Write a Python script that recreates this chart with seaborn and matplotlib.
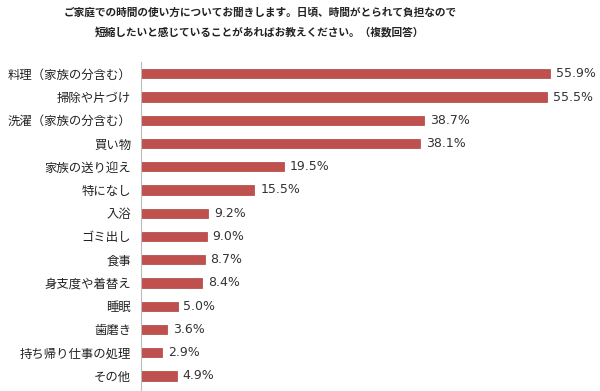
import pandas as pd
import seaborn as sns
import matplotlib.pyplot as plt

# data
categories = ['料理（家族の分含む）', '掃除や片づけ', '洗濯（家族の分含む）', '買い物',
              '家族の送り迎え', '特になし', '入浴', 'ゴミ出し', '食事', '身支度や着替え',
              '睡眠', '歯磨き', '持ち帰り仕事の処理', 'その他']
values = [55.9, 55.5, 38.7, 38.1, 19.5, 15.5, 9.2, 9.0, 8.7, 8.4, 5.0, 3.6, 2.9, 4.9]

df = pd.DataFrame({'item': categories, 'pct': values})

sns.set_style('white')
plt.rcParams['font.family'] = ['Noto Sans CJK JP', 'DejaVu Sans']

fig = plt.figure(figsize=(6, 3.91), dpi=100)
ax = fig.add_axes([0.235, 0.0, 0.765, 0.841])

sns.barplot(data=df, x='pct', y='item', orient='h', color='#C0504D',
            saturation=1, width=0.4, ax=ax, edgecolor='#A94340', linewidth=0.5)

ax.set_xlim(0, 62.7)
ax.set_ylim(len(categories) - 0.35, -0.5)
ax.set_xlabel('')
ax.set_ylabel('')
ax.set_xticks([])
ax.tick_params(axis='y', length=0, pad=7, labelsize=8.9, colors='#222222')
for side in ['top', 'right', 'bottom']:
    ax.spines[side].set_visible(False)
ax.spines['left'].set_color('#BBBBBB')
ax.spines['left'].set_linewidth(0.8)

for i, v in enumerate(values):
    ax.text(v + 0.8, i, f'{v:.1f}%', va='center', ha='left', fontsize=9,
            color='#333333', family=['DejaVu Sans'])

fig.text(0.433, 0.968, 'ご家庭での時間の使い方についてお聞きします。日頃、時間がとられて負担なので',
         ha='center', va='center', fontsize=7.7, fontweight='bold', color='#222222')
fig.text(0.433, 0.918, '短縮したいと感じていることがあればお教えください。（複数回答）',
         ha='center', va='center', fontsize=7.7, fontweight='bold', color='#222222')

fig.savefig('out.png', dpi=100)
